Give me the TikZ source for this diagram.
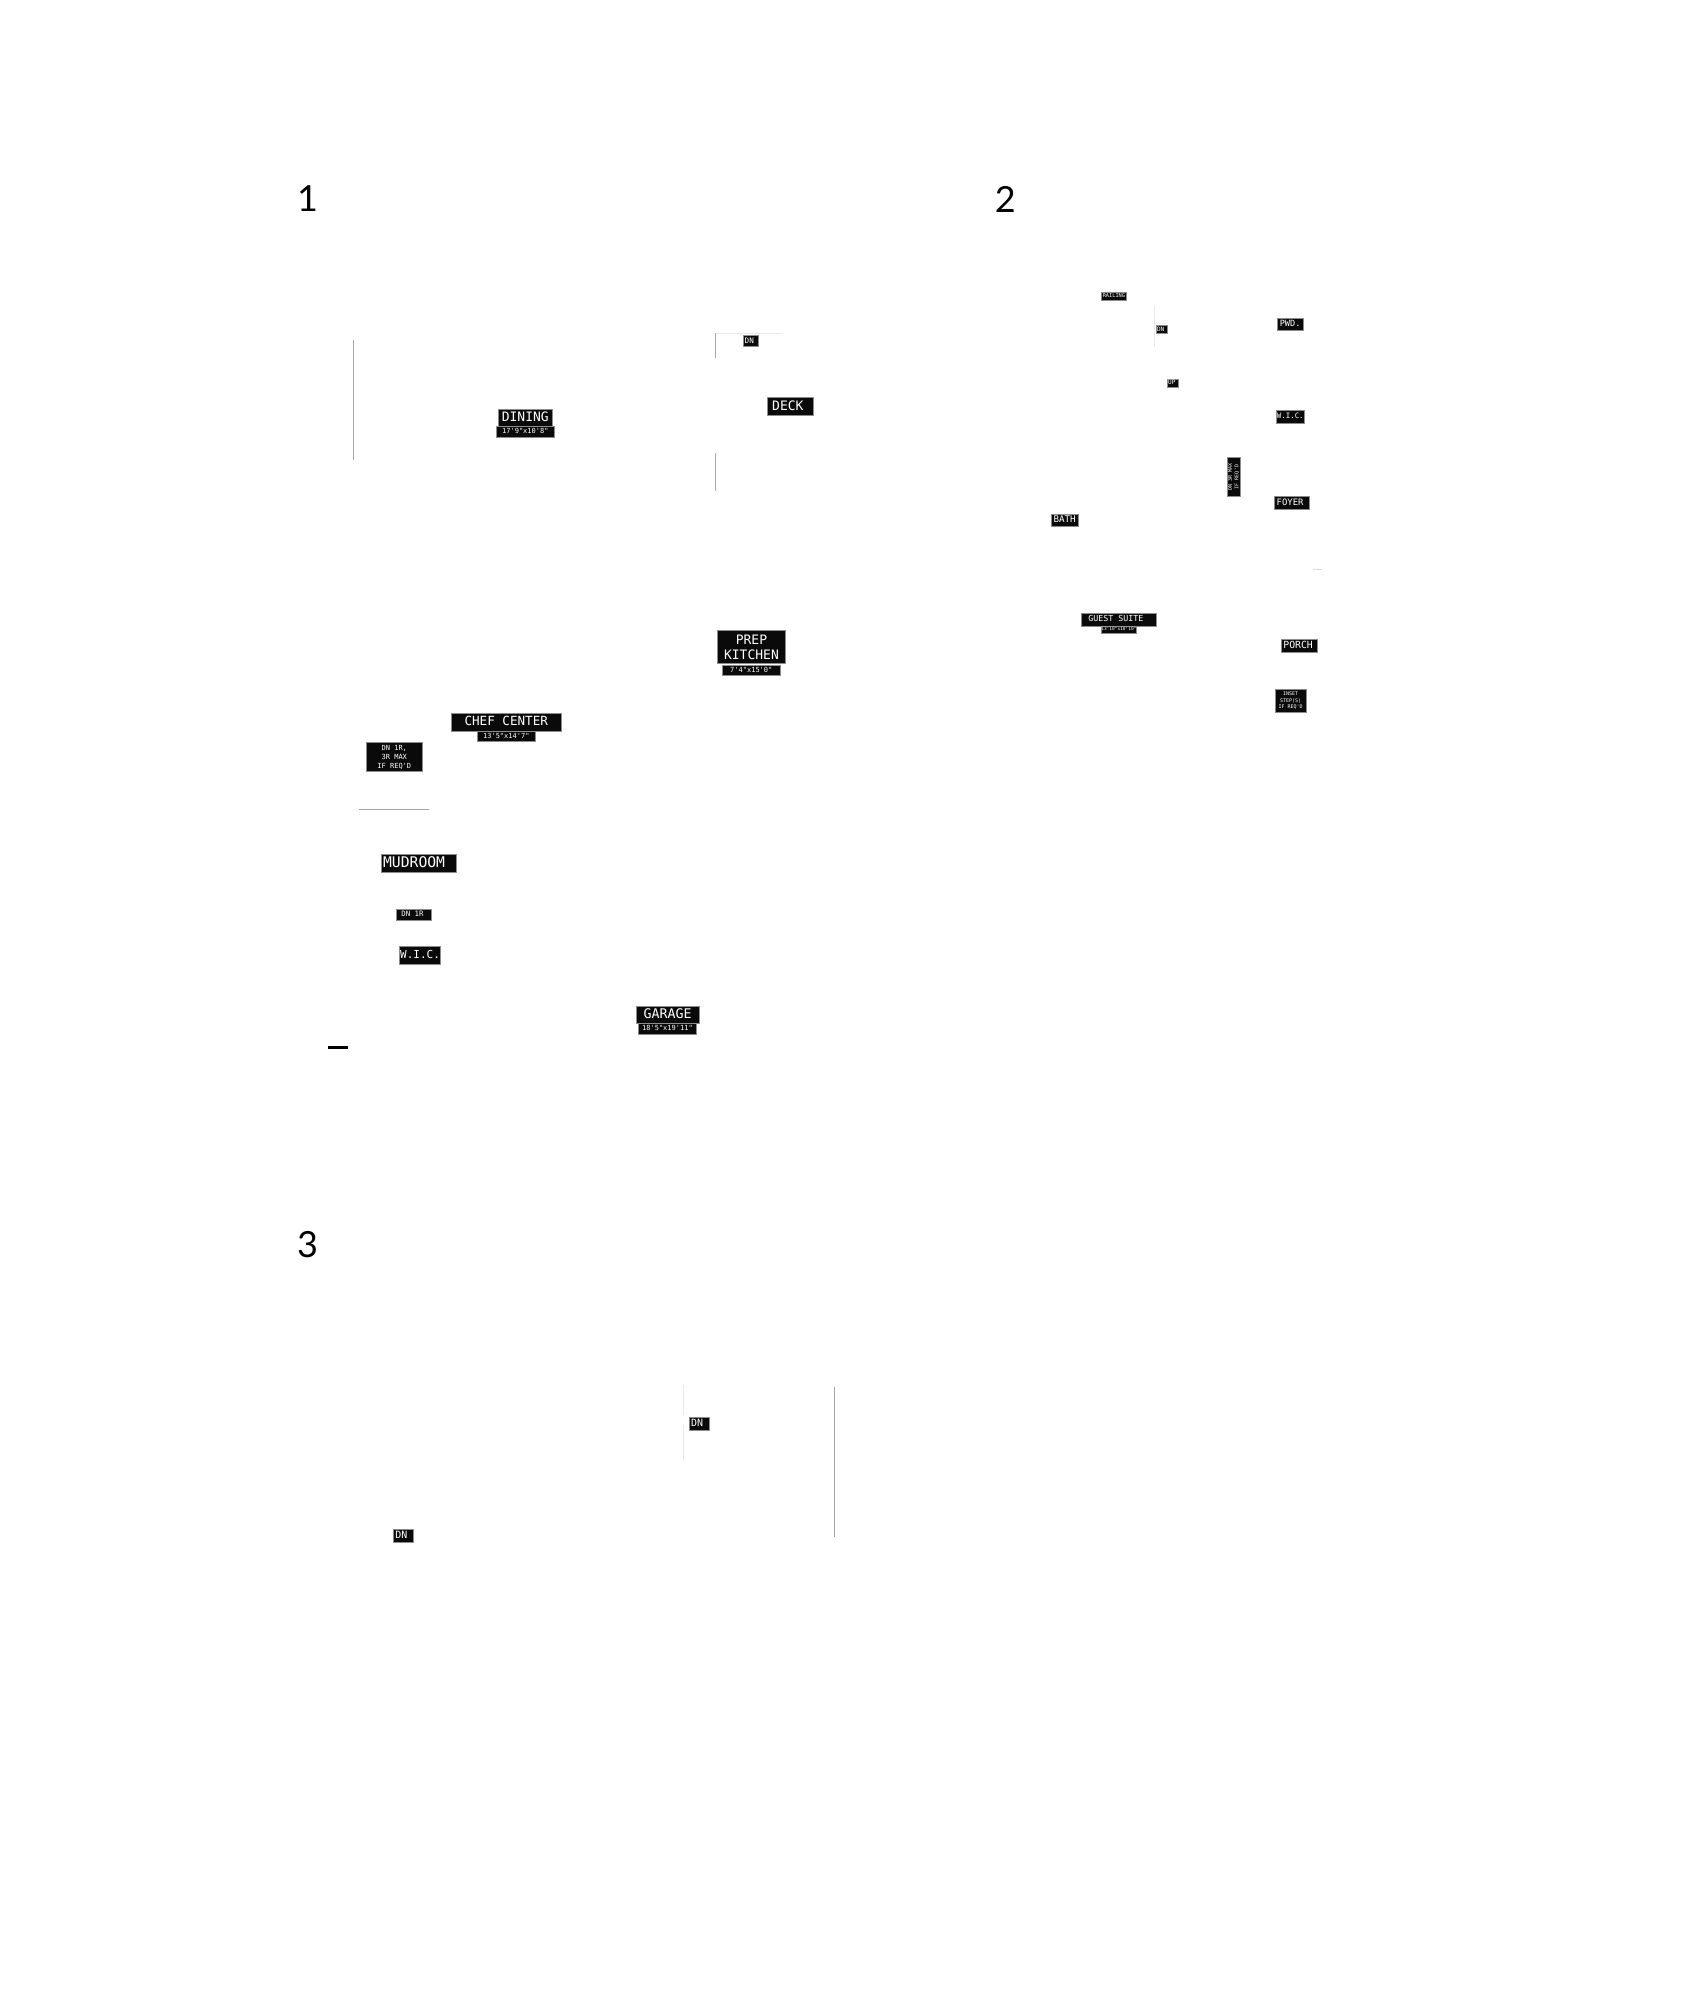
\documentclass[tikz,border=0pt]{standalone}
\usepackage{fontspec}
\newfontfamily\tagfont{DejaVu Sans Mono}
\newfontfamily\numfont{Lato}
\begin{document}
\begin{tikzpicture}[x=1pt,y=-1pt]
      \tikzset{roomtag/.style n args={3}{draw=black!45, line width=.5pt, fill=black!96, text=white, inner sep=0pt, outer sep=0pt, anchor=north west, xshift=.6pt, text depth={#3*.2pt}, minimum width=#1, minimum height=#2, font=\tagfont\fontsize{#3}{#3}\selectfont}}
      \tikzset{sheetnum/.style={inner sep=0pt, font=\numfont\fontsize{36}{36}\selectfont}}
      \tikzset{wall/.style={draw=black!35, line width=1pt}}
      \tikzset{faintwall/.style={draw=black!9, line width=1pt}}
      \path[use as bounding box, fill=white] (0,0) rectangle (1687,2000);
%% Sheet numbers
      	\node[sheetnum] (numone) at (307.5,199) {1};
      	\node[sheetnum] (numtwo) at (1005.2,199) {2};
      	\node[sheetnum] (numthree) at (307.5,1244.5) {3};
%% Plan 1
	%rooms
      	\node[roomtag={53.2pt}{17.7pt}{13}] (dining) at (498.1,409) {DINING};
      	\node[roomtag={57.5pt}{10.6pt}{7}] (diningdim) at (496,426.7) {17'9"x10'8"};
      	\node[roomtag={15.7pt}{11.4pt}{7.6}] (deckdn) at (742.3,335.3) {DN\hspace*{3pt}};
      	\node[roomtag={46.1pt}{18.4pt}{13}] (deck) at (766.2,397.3) {DECK\hspace*{4pt}};
      	\node[roomtag={68.3pt}{32.6pt}{13}, text depth=0pt, align=center, font=\tagfont\fontsize{13}{15}\selectfont] (prep) at (716.7,630.7) {PREP\\KITCHEN};
      	\node[roomtag={58pt}{10.7pt}{7}] (prepdim) at (721.7,665) {7'4"x15'0"};
      	\node[roomtag={110.7pt}{18pt}{12.6}] (chef) at (450.3,713.3) {CHEF CENTER};
      	\node[roomtag={58pt}{10.4pt}{7}] (chefdim) at (476.7,731.3) {13'5"x14'7"};
      	\node[roomtag={56pt}{28.6pt}{7}, text depth=0pt, align=center, font=\tagfont\fontsize{7}{9}\selectfont] (chefdn) at (365.7,742.7) {DN 1R,\\3R MAX\\IF REQ'D};
      	\node[roomtag={75.4pt}{18pt}{14.7}] (mudroom) at (380.3,854.3) {MUDROOM\hspace*{9pt}};
      	\node[roomtag={35.3pt}{11pt}{7.4}] (mudroomdn) at (395.7,909.3) {DN 1R\hspace*{3pt}};
      	\node[roomtag={41pt}{18pt}{11}] (wicone) at (399,946.7) {W.I.C.};
      	\node[roomtag={63.4pt}{17.7pt}{13.3}] (garage) at (635.3,1006) {GARAGE};
      	\node[roomtag={57.7pt}{10.6pt}{7}] (garagedim) at (638,1023.7) {18'5"x19'11"};
	%walls
      	\draw[wall] (353.2,340) -- (353.2,460);
      	\draw[wall] (715.5,333.3) -- (715.5,358);
      	\draw[wall] (715.5,452.7) -- (715.5,490.7);
      	\draw[faintwall] (717.3,333) -- (781.6,333);
      	\draw[wall] (358.7,809) -- (429,809);
      	\draw[black, line width=3pt] (328,1047.2) -- (348,1047.2);
%% Plan 2
	%rooms
      	\node[roomtag={25.3pt}{7.6pt}{5.3}] (railing) at (1100.7,292.7) {RAILING};
      	\node[roomtag={11.4pt}{7.6pt}{6}] (stairdn) at (1155.3,325.7) {DN\hspace*{2pt}};
      	\node[roomtag={26.4pt}{12.7pt}{8.6}] (pwd) at (1276.3,318) {PWD.};
      	\node[roomtag={11pt}{7.7pt}{6}] (stairup) at (1166.7,379.3) {UP\hspace*{2pt}};
      	\node[roomtag={28pt}{12.7pt}{7.4}] (wictwo) at (1275.7,410.3) {W.I.C.};
      	\node[roomtag={39.4pt}{13.7pt}{5}, anchor=center, rotate=90, align=center, font=\tagfont\fontsize{5}{6.6}\selectfont] (foyerdn) at (1233.2,477) {DN 3R MAX\\IF REQ'D};
      	\node[roomtag={34.6pt}{12.7pt}{8.9}] (foyer) at (1273.7,496.3) {FOYER\hspace*{3pt}};
      	\node[roomtag={26.6pt}{12.7pt}{9.2}] (bath) at (1050.7,514) {BATH};
      	\node[roomtag={75pt}{12.7pt}{8.3}] (guest) at (1080.7,613.3) {GUEST SUITE\hspace*{6pt}};
      	\node[roomtag={34.6pt}{7pt}{4.5}] (guestdim) at (1100.7,626) {13'10"x10'10"};
      	\node[roomtag={36pt}{13pt}{9.8}] (porch) at (1281,639) {PORCH\hspace*{3pt}};
      	\node[roomtag={31.4pt}{23pt}{5}, align=center, font=\tagfont\fontsize{5}{6.3}\selectfont] (inset) at (1274.3,689.3) {INSET\\STEP(S)\\IF REQ'D};
	%walls
      	\draw[faintwall] (1154,306) -- (1154,346.7);
      	\draw[black!15, line width=1pt] (1313.3,569) -- (1322,569);
%% Plan 3
	%rooms
      	\node[roomtag={19.6pt}{13.7pt}{10}] (upperdn) at (688.7,1417) {DN\hspace*{4pt}};
      	\node[roomtag={19.7pt}{13pt}{10}] (lowerdn) at (393,1529) {DN\hspace*{4pt}};
	%walls
      	\draw[faintwall] (683.2,1385) -- (683.2,1415);
      	\draw[faintwall] (683.2,1425) -- (683.2,1461);
      	\draw[wall] (834,1386.7) -- (834,1536.7);
\end{tikzpicture}
\end{document}
